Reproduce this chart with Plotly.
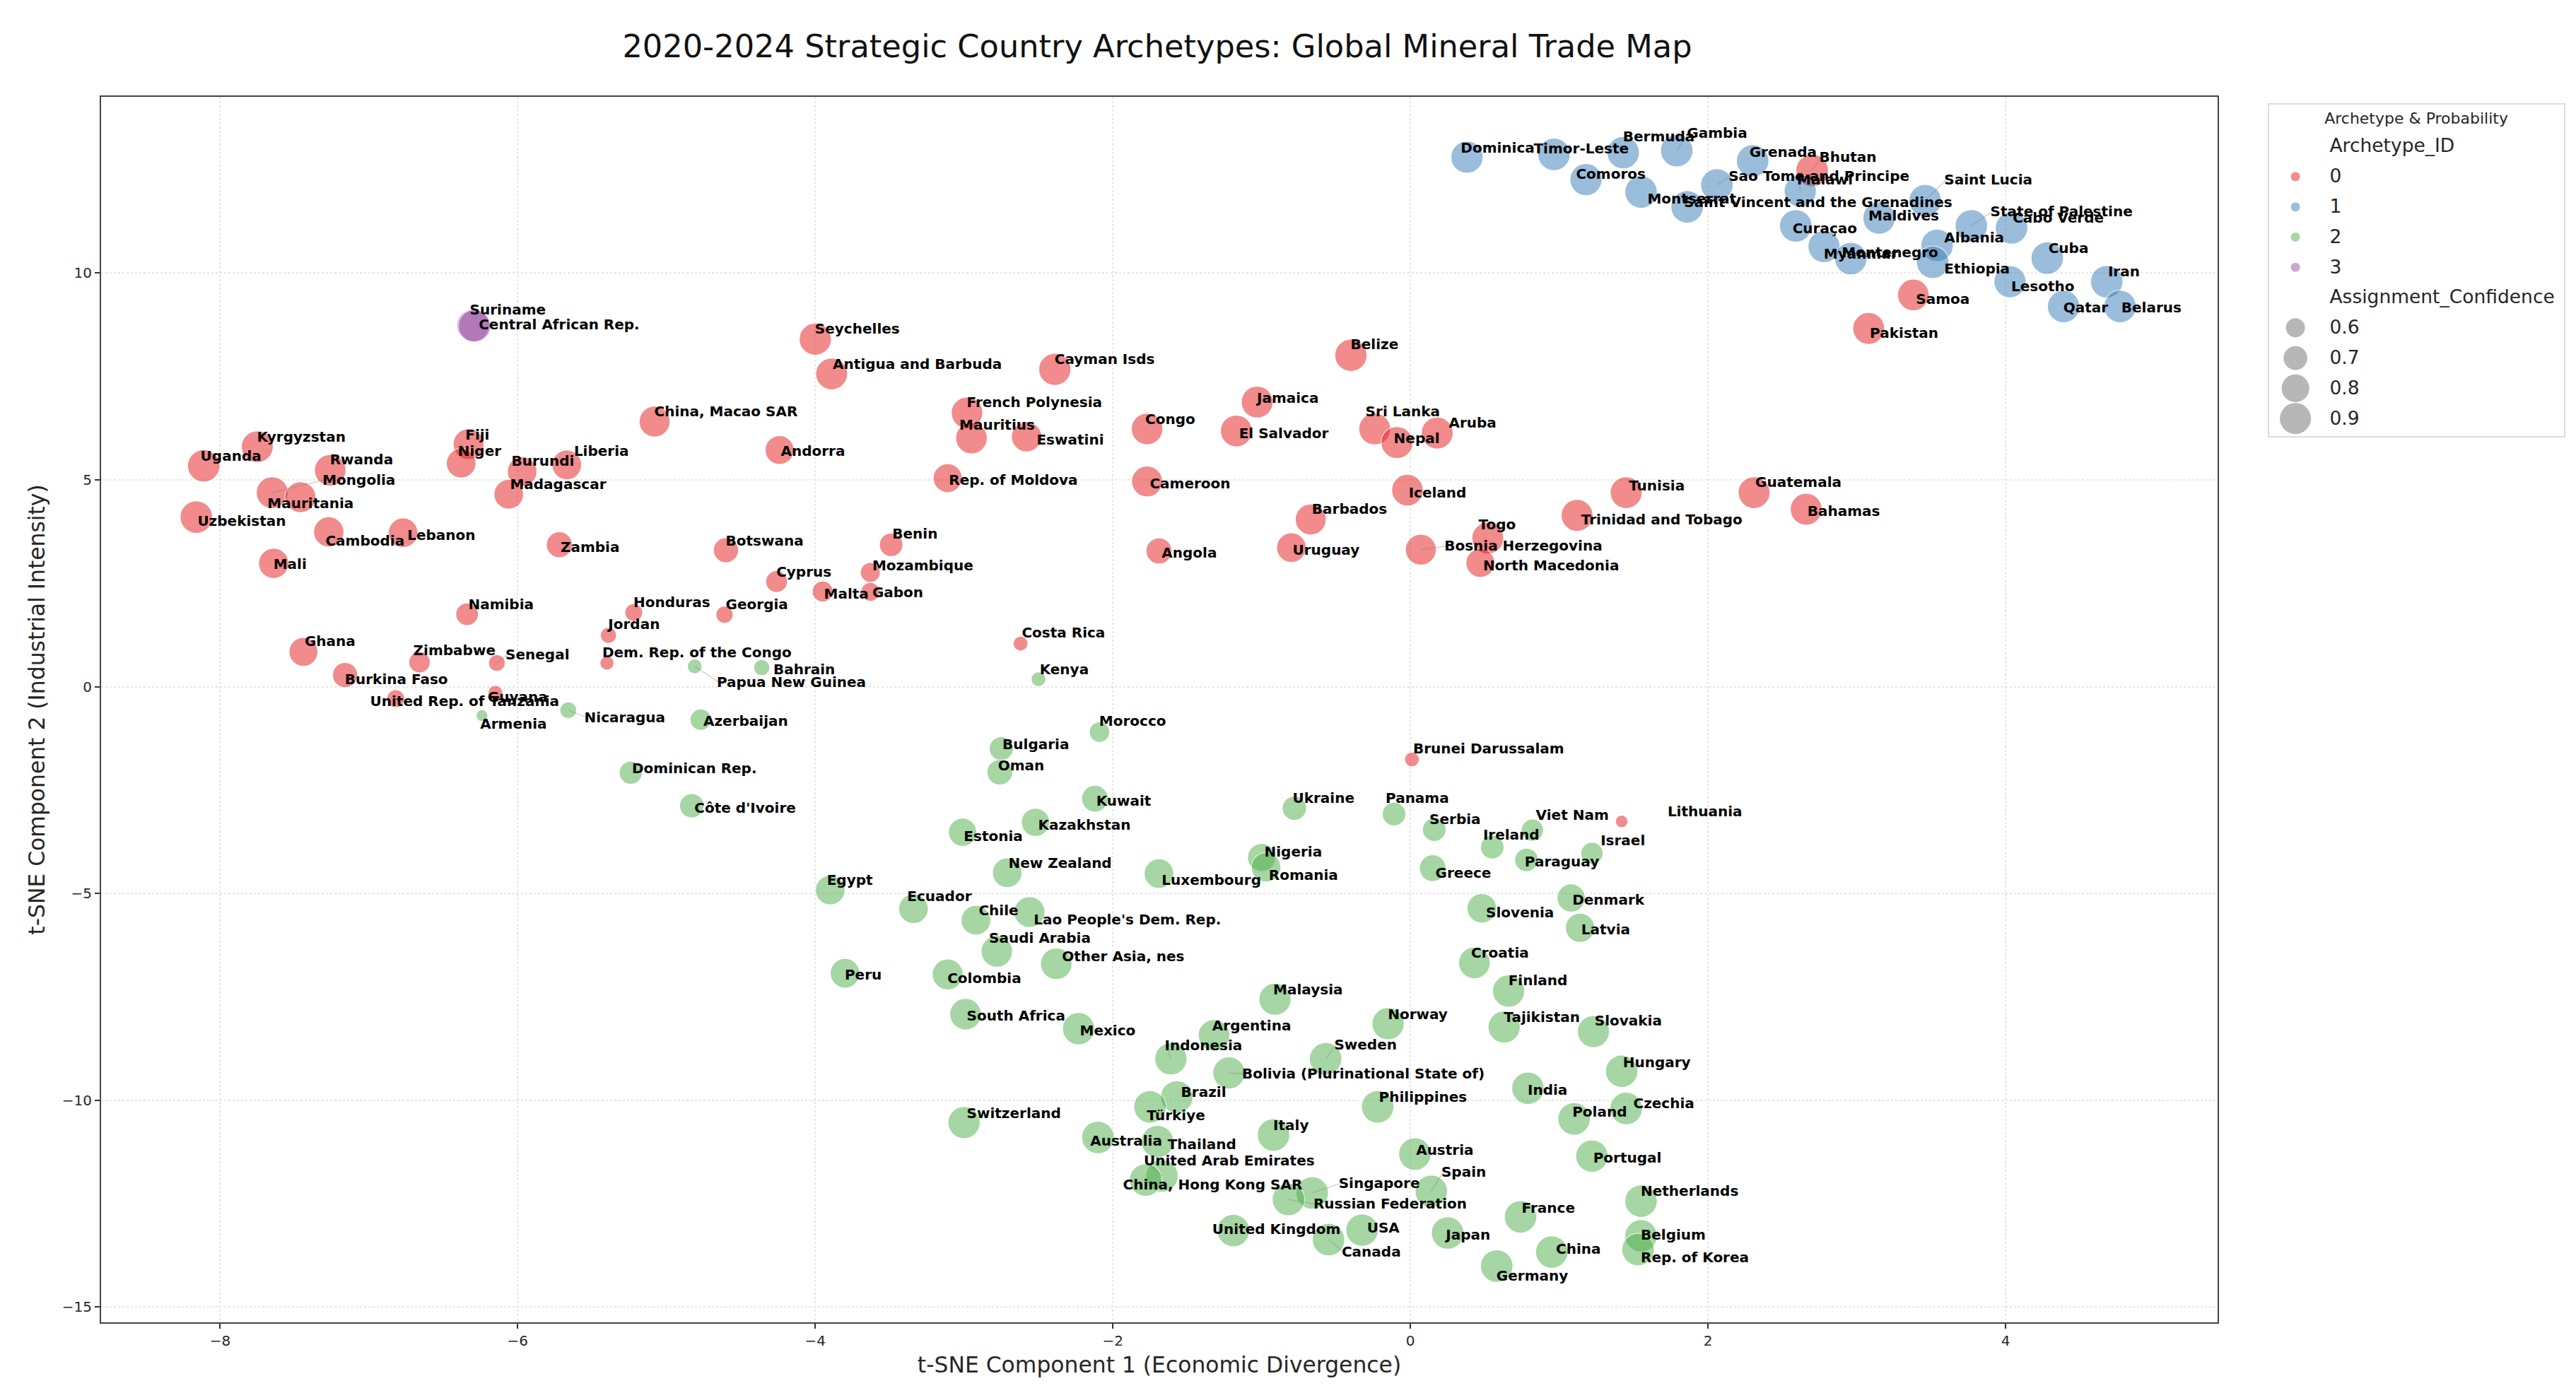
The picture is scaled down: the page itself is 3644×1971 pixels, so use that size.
import plotly.graph_objects as go

# ---- Archetype 0 ----
names0 = ["Uganda","Kyrgyzstan","Rwanda","Mongolia","Mauritania","Uzbekistan","Cambodia","Lebanon","Mali","Fiji","Niger","Burundi","Liberia","Madagascar","China, Macao SAR","Andorra","Zambia","Botswana","Cyprus","Malta","Namibia","Honduras","Georgia","Jordan","Ghana","Burkina Faso","Zimbabwe","Senegal","Dem. Rep. of the Congo","Guyana","United Rep. of Tanzania","Seychelles","Antigua and Barbuda","Cayman Isds","Belize","French Polynesia","Mauritius","Eswatini","Congo","Jamaica","El Salvador","Sri Lanka","Nepal","Aruba","Rep. of Moldova","Cameroon","Iceland","Barbados","Uruguay","Angola","Bosnia Herzegovina","Togo","North Macedonia","Benin","Mozambique","Gabon","Costa Rica","Brunei Darussalam","Lithuania","Bhutan","Samoa","Pakistan","Guatemala","Bahamas","Tunisia","Trinidad and Tobago"]
x0 = [-8.11,-7.75,-7.26,-7.65,-7.46,-8.16,-7.27,-6.77,-7.64,-6.33,-6.38,-5.97,-5.67,-6.06,-5.08,-4.24,-5.72,-4.60,-4.26,-3.95,-6.34,-5.22,-4.61,-5.39,-7.44,-7.16,-6.66,-6.14,-5.40,-6.15,-6.82,-4.00,-3.89,-2.39,-0.40,-2.98,-2.95,-2.58,-1.77,-1.03,-1.17,-0.24,-0.09,0.18,-3.11,-1.77,-0.02,-0.67,-0.80,-1.69,0.07,0.52,0.47,-3.49,-3.63,-3.63,-2.62,0.01,1.42,2.70,3.38,3.08,2.31,2.66,1.45,1.12]
y0 = [5.34,5.80,5.23,4.69,4.58,4.10,3.74,3.72,2.98,5.86,5.40,5.20,5.36,4.65,6.41,5.72,3.43,3.30,2.54,2.30,1.75,1.79,1.74,1.24,0.84,0.28,0.59,0.57,0.57,-0.15,-0.29,8.40,7.56,7.67,8.01,6.62,6.01,6.04,6.23,6.88,6.18,6.23,5.90,6.13,5.04,4.96,4.75,4.04,3.36,3.28,3.31,3.59,2.99,3.43,2.76,2.29,1.04,-1.76,-3.26,12.48,9.47,8.66,4.69,4.29,4.69,4.14]
conf0 = [.95,.93,.92,.93,.90,.95,.88,.86,.88,.90,.86,.86,.86,.86,.90,.84,.76,.74,.66,.64,.68,.58,.57,.55,.84,.74,.65,.56,.52,.53,.58,.94,.93,.94,.94,.92,.92,.88,.92,.93,.93,.93,.93,.93,.84,.90,.92,.90,.86,.76,.90,.93,.84,.70,.62,.60,.53,.53,.50,.95,.92,.93,.93,.93,.93,.93]
lx0 = [-8.12,-7.74,-7.25,-7.30,-7.67,-8.14,-7.28,-6.73,-7.63,-6.34,-6.39,-6.03,-5.61,-6.04,-5.07,-4.22,-5.70,-4.59,-4.25,-3.93,-6.32,-5.21,-4.59,-5.38,-7.42,-7.15,-6.69,-6.07,-5.42,-6.19,-6.98,-3.99,-3.87,-2.38,-0.39,-2.97,-3.02,-2.50,-1.77,-1.02,-1.14,-0.29,-0.10,0.27,-3.09,-1.74,0.00,-0.65,-0.78,-1.66,0.24,0.47,0.50,-3.47,-3.605,-3.605,-2.60,0.03,1.74,2.76,3.41,3.10,2.33,2.68,1.48,1.16]
ly0 = [5.57,6.03,5.49,5.00,4.43,4.00,3.53,3.67,2.96,6.09,5.69,5.46,5.69,4.90,6.65,5.69,3.37,3.53,2.78,2.25,1.99,2.04,1.99,1.50,1.09,0.17,0.87,0.78,0.82,-0.25,-0.35,8.65,7.80,7.91,8.27,6.87,6.32,5.97,6.47,6.98,6.12,6.65,6.01,6.37,5.00,4.91,4.69,4.30,3.31,3.23,3.40,3.91,2.92,3.70,2.92,2.27,1.31,-1.50,-3.02,12.80,9.37,8.55,4.94,4.25,4.86,4.03]

# ---- Archetype 1 ----
names1 = ["Dominica","Timor-Leste","Bermuda","Gambia","Comoros","Grenada","Sao Tome and Principe","Malawi","Montserrat","Saint Vincent and the Grenadines","Saint Lucia","Maldives","Curaçao","State of Palestine","Cabo Verde","Albania","Cuba","Myanmar","Montenegro","Ethiopia","Iran","Lesotho","Qatar","Belarus"]
x1 = [0.38,0.965,1.43,1.79,1.18,2.30,2.06,2.62,1.55,1.86,3.46,3.15,2.59,3.77,4.04,3.54,4.28,2.78,2.96,3.51,4.68,4.03,4.39,4.77]
y1 = [12.80,12.87,12.91,12.96,12.26,12.71,12.13,11.98,11.96,11.60,11.75,11.33,11.14,11.14,11.09,10.67,10.36,10.64,10.35,10.26,9.79,9.79,9.19,9.19]
conf1 = [.94,.95,.95,.95,.94,.95,.95,.94,.95,.95,.95,.95,.95,.95,.95,.95,.95,.94,.95,.95,.95,.94,.95,.95]
lx1 = [0.35,0.84,1.44,1.87,1.125,2.29,2.15,2.61,1.605,1.85,3.60,3.09,2.58,3.91,4.06,3.60,4.30,2.79,2.91,3.60,4.70,4.05,4.40,4.79]
ly1 = [13.03,13.00,13.30,13.38,12.39,12.92,12.34,12.25,11.79,11.71,12.26,11.39,11.08,11.48,11.33,10.86,10.60,10.47,10.49,10.11,10.03,9.67,9.17,9.17]

# ---- Archetype 2 ----
names2 = ["Papua New Guinea","Bahrain","Armenia","Nicaragua","Azerbaijan","Dominican Rep.","Côte d'Ivoire","Kenya","Morocco","Bulgaria","Oman","Kuwait","Kazakhstan","Estonia","Ukraine","Panama","Serbia","Viet Nam","Ireland","Paraguay","Israel","Greece","Nigeria","Romania","New Zealand","Luxembourg","Egypt","Ecuador","Chile","Lao People's Dem. Rep.","Saudi Arabia","Other Asia, nes","Peru","Colombia","South Africa","Mexico","Malaysia","Slovenia","Denmark","Latvia","Croatia","Finland","Tajikistan","Norway","Argentina","Indonesia","Sweden","Bolivia (Plurinational State of)","Slovakia","Hungary","India","Czechia","Poland","Philippines","Brazil","Türkiye","Switzerland","Australia","Italy","Thailand","Austria","Portugal","United Arab Emirates","China, Hong Kong SAR","Singapore","Russian Federation","Spain","Netherlands","France","United Kingdom","USA","Japan","Canada","Belgium","Rep. of Korea","China","Germany"]
x2 = [-4.81,-4.36,-6.24,-5.66,-4.77,-5.24,-4.83,-2.50,-2.09,-2.75,-2.76,-2.12,-2.52,-3.01,-0.78,-0.11,0.16,0.82,0.55,0.78,1.22,0.15,-1.00,-0.97,-2.71,-1.69,-3.90,-3.34,-2.92,-2.56,-2.78,-2.38,-3.80,-3.11,-2.99,-2.23,-0.91,0.48,1.08,1.14,0.43,0.66,0.63,-0.15,-1.32,-1.61,-0.57,-1.22,1.23,1.42,0.79,1.45,1.10,-0.22,-1.57,-1.75,-3.00,-2.10,-0.92,-1.70,0.03,1.22,-1.67,-1.78,-0.66,-0.82,0.14,1.55,0.74,-1.19,-0.325,0.25,-0.55,1.55,1.53,0.95,0.58]
y2 = [0.49,0.46,-0.70,-0.57,-0.80,-2.08,-2.88,0.18,-1.10,-1.50,-2.07,-2.71,-3.28,-3.52,-2.94,-3.08,-3.46,-3.47,-3.88,-4.19,-4.03,-4.39,-4.13,-4.37,-4.50,-4.52,-4.92,-5.37,-5.65,-5.45,-6.40,-6.70,-6.93,-6.96,-7.92,-8.27,-7.56,-5.36,-5.11,-5.83,-6.68,-7.36,-8.23,-8.15,-8.43,-9.00,-9.00,-9.34,-8.34,-9.30,-9.71,-10.20,-10.45,-10.16,-9.92,-10.16,-10.54,-10.90,-10.84,-11.00,-11.30,-11.35,-11.83,-11.93,-12.24,-12.40,-12.20,-12.44,-12.82,-13.15,-13.14,-13.21,-13.37,-13.28,-13.61,-13.67,-14.01]
conf2 = [.53,.55,.49,.56,.65,.69,.72,.53,.63,.71,.75,.78,.82,.82,.72,.70,.70,.67,.70,.70,.67,.78,.82,.86,.86,.86,.86,.86,.86,.90,.92,.92,.86,.90,.92,.94,.94,.86,.82,.85,.92,.94,.94,.94,.92,.94,.95,.94,.94,.95,.95,.95,.95,.95,.95,.95,.94,.95,.95,.95,.95,.95,.95,.95,.95,.95,.95,.95,.95,.95,.95,.95,.95,.95,.95,.95,.95]
lx2 = [-4.65,-4.27,-6.24,-5.54,-4.74,-5.22,-4.80,-2.48,-2.08,-2.73,-2.76,-2.10,-2.49,-2.99,-0.78,-0.155,0.14,0.855,0.50,0.78,1.29,0.18,-0.97,-0.94,-2.69,-1.66,-3.91,-3.37,-2.89,-2.52,-2.82,-2.33,-3.79,-3.10,-2.97,-2.21,-0.91,0.52,1.10,1.16,0.42,0.67,0.64,-0.14,-1.32,-1.64,-0.50,-1.12,1.25,1.44,0.80,1.51,1.10,-0.20,-1.53,-1.76,-2.97,-2.14,-0.91,-1.62,0.05,1.24,-1.78,-1.92,-0.47,-0.64,0.22,1.56,0.76,-1.32,-0.28,0.25,-0.45,1.56,1.56,0.99,0.59]
ly2 = [0.11,0.42,-0.90,-0.74,-0.84,-1.97,-2.93,0.42,-0.84,-1.40,-1.91,-2.76,-3.34,-3.61,-2.69,-2.69,-3.20,-3.11,-3.58,-4.23,-3.72,-4.50,-4.00,-4.55,-4.26,-4.68,-4.67,-5.07,-5.42,-5.63,-6.07,-6.53,-6.97,-7.06,-7.96,-8.32,-7.33,-5.47,-5.16,-5.88,-6.43,-7.11,-7.99,-7.92,-8.19,-8.68,-8.66,-9.36,-8.07,-9.09,-9.75,-10.08,-10.29,-9.92,-9.80,-10.36,-10.32,-10.99,-10.61,-11.06,-11.21,-11.40,-11.46,-12.05,-12.01,-12.51,-11.74,-12.20,-12.60,-13.11,-13.08,-13.25,-13.66,-13.25,-13.80,-13.60,-14.24]

# ---- Archetype 3 ----
names3 = ["Suriname","Central African Rep."]
x3 = [-6.30,-6.29]
y3 = [8.73,8.72]
conf3 = [.95,.94]
lx3 = [-6.31,-6.25]
ly3 = [9.12,8.76]

# labels joined to their point by a faint connector
connected = ["Mongolia","Papua New Guinea","Saint Lucia","State of Palestine","Gambia","Sao Tome and Principe","Malawi","Bhutan","Indonesia","Sweden","Spain","United Arab Emirates","Singapore","Russian Federation","Canada","Bosnia Herzegovina","Bolivia (Plurinational State of)","Nicaragua","Senegal"]

archetype_ids = ["0","1","2","3"]
colors = ["#e41a1c","#377eb8","#4daf4a","#984ea3"]
legend_conf = [0.6,0.7,0.8,0.9]
legend_conf_text = ["0.6","0.7","0.8","0.9"]
x_ticks = [-8,-6,-4,-2,0,2,4]
y_ticks = [-15,-10,-5,0,5,10]

W, H = 3644, 1971
FONT = "DejaVu Sans"

def diam(c):
    return (729 + 4020 * (c - 0.6)) ** 0.5

groups = [(names0,x0,y0,conf0,lx0,ly0),(names1,x1,y1,conf1,lx1,ly1),(names2,x2,y2,conf2,lx2,ly2),(names3,x3,y3,conf3,lx3,ly3)]

fig = go.Figure()

for (n,x,y,c,lx,ly),col in zip(groups,colors):
    fig.add_trace(go.Scatter(x=x,y=y,mode="markers",hoverinfo="text",text=n,showlegend=False,
        marker=dict(size=[diam(v) for v in c],color=col,opacity=0.5,line=dict(color="white",width=1.5))))

cx,cy=[],[]
for (n,x,y,c,lx,ly) in groups:
    for i,name in enumerate(n):
        if name in connected:
            cx += [x[i],lx[i],None]; cy += [y[i],ly[i],None]
fig.add_trace(go.Scatter(x=cx,y=cy,mode="lines",hoverinfo="skip",showlegend=False,
    line=dict(color="rgba(130,130,130,0.35)",width=1.5)))

all_names=sum((g[0] for g in groups),[])
all_lx=sum((g[4] for g in groups),[])
all_ly=sum((g[5] for g in groups),[])
# small nudge: the renderer's text box sits slightly right of and above the anchor
fig.add_trace(go.Scatter(x=[v-0.012 for v in all_lx],y=[v-0.03 for v in all_ly],text=all_names,mode="text",textposition="middle right",hoverinfo="skip",showlegend=False,
    textfont=dict(family=FONT,size=20,color="black",weight="bold")))

# legend panel, drawn on its own small axes
legend_rows_color=[1,2,3,4]
legend_rows_conf=[6,7,8,9]
lk=dict(xaxis="x2",yaxis="y2",showlegend=False,hoverinfo="skip")
fig.add_trace(go.Scatter(x=[0.089]*4,y=legend_rows_color,mode="markers",
    marker=dict(size=13,color=colors,opacity=0.5,line=dict(width=0)),**lk))
fig.add_trace(go.Scatter(x=[0.089]*4,y=legend_rows_conf,mode="markers",
    marker=dict(size=[diam(v) for v in legend_conf],color="#999999",line=dict(width=0)),**lk))
fig.add_trace(go.Scatter(x=[0.205]*10,y=[v+0.04 for v in [0]+legend_rows_color+[5]+legend_rows_conf],mode="text",textposition="middle right",
    text=["Archetype_ID"]+archetype_ids+["Assignment_Confidence"]+legend_conf_text,
    textfont=dict(family=FONT,size=26.5,color="#262626"),**lk))
fig.add_trace(go.Scatter(x=[0.499],y=[-0.87],mode="text",textposition="middle center",text=["Archetype & Probability"],
    textfont=dict(family=FONT,size=22,color="#262626"),**lk))

fig.update_layout(
    width=W,height=H,margin=dict(l=0,r=0,t=0,b=0),autosize=False,
    paper_bgcolor="white",plot_bgcolor="white",showlegend=False,
    font=dict(family=FONT,color="#262626"),
    title=dict(text="2020-2024 Strategic Country Archetypes: Global Mineral Trade Map",x=1637/W,y=1-65/H,
        xanchor="center",yanchor="middle",font=dict(family=FONT,size=44.7,color="#111111")),
    xaxis=dict(domain=[143/W,3137/W],range=[-8.80,5.425],tickvals=x_ticks,ticks="outside",ticklen=7,tickwidth=1.5,tickcolor="#333",
        showline=True,mirror=True,linecolor="#444",linewidth=2,zeroline=False,
        showgrid=True,gridcolor="#e6e6e6",griddash="dot",gridwidth=1.5,tickfont=dict(size=20),
        title=dict(text="t-SNE Component 1 (Economic Divergence)",font=dict(size=31.4),standoff=12),automargin=False),
    yaxis=dict(domain=[1-1871/H,1-137/H],range=[-15.37,14.26],tickvals=y_ticks,ticks="outside",ticklen=7,tickwidth=1.5,tickcolor="#333",
        showline=True,mirror=True,linecolor="#444",linewidth=2,zeroline=False,
        showgrid=True,gridcolor="#e6e6e6",griddash="dot",gridwidth=1.5,tickfont=dict(size=20),
        title=dict(text="t-SNE Component 2 (Industrial Intensity)",font=dict(size=31.4),standoff=15),automargin=False),
    xaxis2=dict(domain=[3210/W,3627/W],range=[0,1],anchor="y2",visible=True,showticklabels=False,ticks="",showgrid=False,zeroline=False,
        showline=True,mirror=True,linecolor="#dddddd",linewidth=2),
    yaxis2=dict(domain=[1-617/H,1-148/H],range=[9.58,-1.38],anchor="x2",showticklabels=False,ticks="",showgrid=False,zeroline=False,
        showline=True,mirror=True,linecolor="#dddddd",linewidth=2),
)

fig.write_html("out.html",config=dict(displayModeBar=False),post_script="document.body.style.margin='0';document.body.style.overflow='hidden';")
